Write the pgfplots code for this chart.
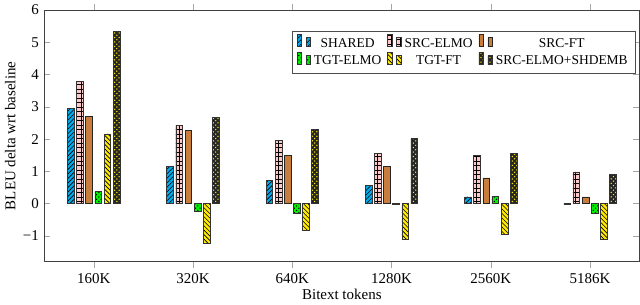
\documentclass[border=0pt]{standalone}
\usepackage{fontspec}
\setmainfont{Liberation Serif}
\usepackage{pgfplots}
\pgfplotsset{compat=1.18}
\usetikzlibrary{patterns}
\definecolor{cshared}{RGB}{0,170,235}
\definecolor{cpink}{RGB}{255,200,200}
\definecolor{cbrown}{RGB}{200,125,60}
\definecolor{cgreen}{RGB}{0,240,0}
\definecolor{cyell}{RGB}{255,235,0}
\begin{document}
\begin{tikzpicture}
\begin{axis}[
  scale only axis,
  width=397.6pt, height=168pt,
  ybar=1.6pt, bar width=4.5pt,
  xmin=-0.5, xmax=5.5,
  ymin=-1.8, ymax=6,
  xtick={0,1,2,3,4,5},
  xticklabels={160K,320K,640K,1280K,2560K,5186K},
  ytick={-1,0,1,2,3,4,5,6},
  yticklabels={−1,0,1,2,3,4,5,6},
  xlabel={Bitext tokens},
  ylabel={BLEU delta wrt baseline},
  xlabel style={yshift=3pt},
  ylabel style={yshift=-2pt},
  axis line style={black!75},
  tick style={black!35},
  legend columns=3,
  legend cell align=center,
  legend style={font=\fontsize{9}{10.5}\selectfont, at={(0.993,0.916)}, anchor=north east, draw=black!70, /tikz/every even column/.append style={column sep=2pt}},
]
\addplot[draw=black!80, fill=cshared, postaction={pattern=north east lines}] coordinates {(0,2.94) (1,1.15) (2,0.71) (3,0.56) (4,0.21) (5,-0.03)};
\addplot[draw=black!80, fill=cpink, postaction={pattern=grid}] coordinates {(0,3.78) (1,2.42) (2,1.96) (3,1.55) (4,1.49) (5,0.98)};
\addplot[draw=black!85, fill=cbrown] coordinates {(0,2.71) (1,2.26) (2,1.49) (3,1.15) (4,0.80) (5,0.21)};
\addplot[draw=black!80, fill=cgreen, postaction={pattern=crosshatch dots}] coordinates {(0,0.38) (1,-0.23) (2,-0.31) (3,-0.02) (4,0.23) (5,-0.31)};
\addplot[draw=black!80, fill=cyell, postaction={pattern=north west lines}] coordinates {(0,2.16) (1,-1.22) (2,-0.84) (3,-1.10) (4,-0.94) (5,-1.12)};
\addplot[draw=black!80, fill=black!85, postaction={pattern=crosshatch dots, pattern color=cyell}] coordinates {(0,5.34) (1,2.67) (2,2.29) (3,2.03) (4,1.56) (5,0.91)};
\legend{SHARED,SRC-ELMO,SRC-FT,TGT-ELMO,TGT-FT,SRC-ELMO+SHDEMB}
\end{axis}
\end{tikzpicture}
\end{document}
